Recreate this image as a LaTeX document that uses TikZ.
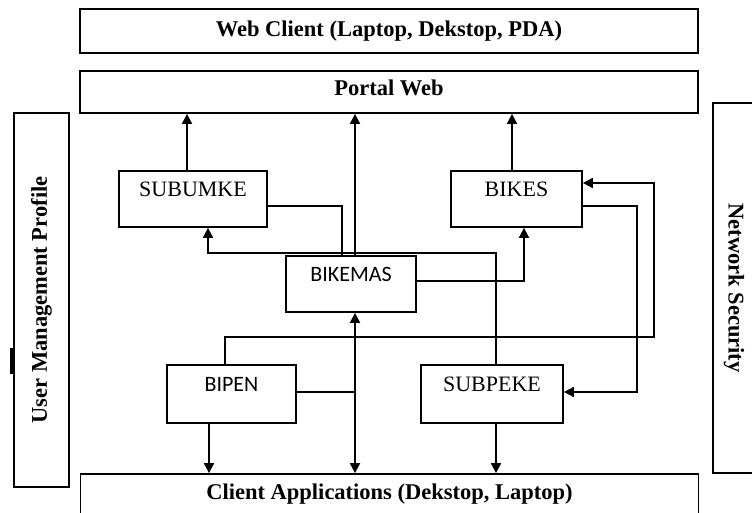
\documentclass[tikz,border=0pt]{standalone}
\usepackage{fontspec}
\setmainfont{Liberation Serif}
\newfontfamily\calfont{Carlito}
\usetikzlibrary{arrows.meta, positioning, calc}

\begin{document}
\begin{tikzpicture}[x=1pt, y=-1pt,
    titlebox/.style={draw, line width=1.8pt, minimum width=618pt, inner sep=0pt, font=\fontsize{22.5}{27}\selectfont\bfseries},
    sidebox/.style={draw, line width=1.8pt, inner sep=0pt, font=\fontsize{22.5}{27}\selectfont\bfseries},
    modbox/.style={draw, line width=1.8pt, minimum height=56pt, inner sep=0pt, text height=15pt, text depth=20pt, font=\fontsize{22}{26}\selectfont},
    calbox/.style={modbox, font=\fontsize{22}{26}\selectfont\calfont},
    conn/.style={line width=1.8pt},
    arr/.style={conn, -{Triangle[width=10pt, length=10pt]}}]
    \useasboundingbox (0,0) rectangle (752,513);
    \clip (0,0) rectangle (752,513);

    % Layers
    \node[titlebox, minimum height=44pt] (web) at (389,31) {Web Client (Laptop, Dekstop, PDA)};
    \node[titlebox, minimum height=42pt, text depth=8pt] (portal) at (389,92) {Portal Web};
    \node[titlebox, minimum height=40pt] (client) at (389.5,494) {Client Applications (Dekstop, Laptop)};
    \node[sidebox, rotate=90, minimum width=374pt, minimum height=55pt] (user) at (41.5,300) {User Management Profile};
    \node[sidebox, rotate=-90, minimum width=370pt, minimum height=42pt] (netsec) at (734,288) {Network Security};
    \fill (10,348) rectangle (15,374);

    % Modules
    \node[modbox, minimum width=148pt] (subumke) at (193,199) {SUBUMKE};
    \node[modbox, minimum width=131pt] (bikes) at (516.5,199) {BIKES};
    \node[calbox, minimum width=130pt] (bikemas) at (351,284) {BIKEMAS};
    \node[calbox, minimum width=129pt, minimum height=58pt] (bipen) at (231.5,394) {BIPEN};
    \node[modbox, minimum width=142pt, minimum height=58pt] (subpeke) at (492,394) {SUBPEKE};

    % Edges to portal
    \draw[arr] ([xshift=-6pt]subumke.north) -- ([xshift=-6pt]subumke.north |- portal.south);
    \draw[arr] ([xshift=4pt]bikemas.north) -- ([xshift=4pt]bikemas.north |- portal.south);
    \draw[arr] ([xshift=-4.5pt]bikes.north) -- ([xshift=-4.5pt]bikes.north |- portal.south);

    % Edges between modules
    \draw[conn] ([yshift=-7pt]subumke.east) -| ([xshift=-9pt]bikemas.north);
    \draw[arr] ([xshift=4pt]subpeke.north) |- ([yshift=2pt]bikemas.north) -| ([xshift=15pt]subumke.south);
    \draw[arr] ([yshift=3pt]bikemas.east) -| ([xshift=7.5pt]bikes.south);
    \draw[arr] ([xshift=-6.5pt]bipen.north) -- ++(0,-27) -- ++(429,0) |- ([yshift=16pt]bikes.east);
    \draw[arr] ([yshift=-7pt]bikes.east) -- ++(54,0) |- ([yshift=2pt]subpeke.east);
    \draw[arr] ([yshift=2pt]bipen.east) -| ([xshift=4pt]bikemas.south);
    \draw[arr] ([yshift=2pt]bipen.east) -| ([xshift=4pt]bikemas.south |- client.north);

    % Edges to clients
    \draw[arr] ([xshift=-22.5pt]bipen.south) -- ([xshift=-22.5pt]bipen.south |- client.north);
    \draw[arr] ([xshift=4pt]subpeke.south) -- ([xshift=4pt]subpeke.south |- client.north);
\end{tikzpicture}
\end{document}
